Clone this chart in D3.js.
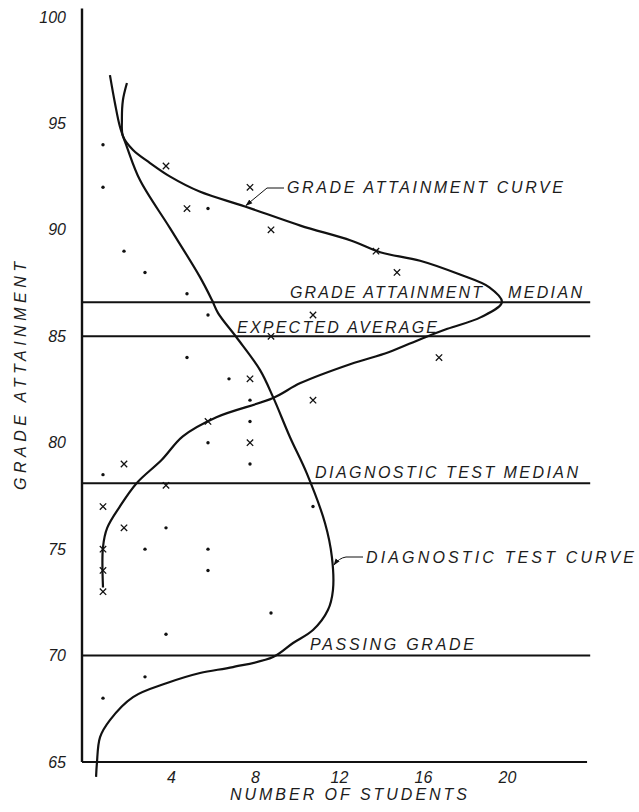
<!DOCTYPE html>
<html>
<head>
<meta charset="utf-8">
<script src="https://cdn.jsdelivr.net/npm/d3@7"></script>
<style>
  body { margin: 0; background: #fff; }
  text { font-family: "Liberation Sans", Arial, sans-serif; font-style: italic; fill: #1c1c1c; }
</style>
</head>
<body>
<svg id="chart" width="639" height="812"></svg>
<script>
// ticks
const gradeTicks = [65, 70, 75, 80, 85, 90, 95, 100];
const studentTicks = [4, 8, 12, 16, 20];

// [students, grade] along each smoothed curve
const attainCurve = [
  [2.14, 96.9], [1.95, 96.1], [1.9, 95.15], [1.95, 94.4], [2.43, 93.75], [3.24, 93.14],
  [4.2, 92.5], [5.6, 91.8], [7.76, 91.1], [10.4, 90.2], [12.8, 89.5], [14.2, 88.95],
  [16.1, 88.55], [18.0, 87.9], [19.4, 87.3], [20.0, 86.6], [19.0, 85.9], [17.4, 85.35],
  [16.2, 84.9], [14.6, 84.25], [12.8, 83.7], [10.4, 82.8], [9.1, 82.1], [6.4, 81.2],
  [4.8, 80.3], [3.8, 79.2], [2.6, 78.1], [1.8, 77.0], [1.2, 76.0], [1.0, 75.1], [1.0, 73.2]
];
const diagCurve = [
  [1.33, 97.27], [1.57, 95.95], [1.81, 94.83], [2.14, 93.89], [2.76, 92.34], [4.19, 90.08],
  [5.62, 87.78], [6.19, 86.7], [6.48, 86.09], [7.38, 84.92], [8.48, 83.41], [9.1, 82.14],
  [9.9, 80.27], [10.7, 78.57], [11.57, 76.23], [11.9, 74.63], [11.95, 73.08], [11.71, 72.14],
  [11.0, 71.2], [10.05, 70.59], [9.1, 69.93], [7.19, 69.46], [5.62, 69.18], [4.05, 68.71],
  [2.43, 68.05], [1.33, 66.97], [0.86, 66.17], [0.71, 64.95], [0.67, 64.3]
];

// plotted observations: x marks and dots
const crossPts = [
  [4, 93], [5, 91], [8, 92], [9, 90], [14, 89], [15, 88], [11, 86], [9, 85], [17, 84],
  [8, 83], [11, 82], [6, 81], [8, 80], [2, 79], [4, 78], [1, 77], [2, 76], [1, 75], [1, 74], [1, 73]
];
const dotPts = [
  [1, 94], [1, 92], [6, 91], [2, 89], [3, 88], [5, 87], [6, 86], [5, 84], [7, 83], [8, 82],
  [8, 81], [6, 80], [8, 79], [1, 78.5], [11, 77], [4, 76], [3, 75], [6, 75], [6, 74], [9, 72],
  [4, 71], [3, 69], [1, 68]
];

// horizontal reference lines
const refValues = [86.6, 85, 78.1, 70];

const svg = d3.select('#chart');
svg.append('rect').attr('width', 639).attr('height', 812).attr('fill', '#fff');

const x = d3.scaleLinear().domain([0, 24]).range([82, 586]);
const y = d3.scaleLinear().domain([65, 100]).range([762, 17]);

svg.append('defs').append('marker')
  .attr('id', 'arrow')
  .attr('viewBox', '0 0 10 10')
  .attr('refX', 9).attr('refY', 5)
  .attr('markerWidth', 7).attr('markerHeight', 7)
  .attr('orient', 'auto-start-reverse')
  .append('path').attr('d', 'M0,1.5 L10,5 L0,8.5 Z').attr('fill', '#111');

// axes
const yAxis = svg.append('g')
  .attr('transform', `translate(${x(0)},0)`)
  .call(d3.axisLeft(y).tickValues(gradeTicks).tickSize(0).tickPadding(16));
yAxis.select('.domain').remove();
yAxis.selectAll('text').attr('font-size', 16).style('font-family', null);

const xAxis = svg.append('g')
  .attr('transform', `translate(0,${y(65)})`)
  .call(d3.axisBottom(x).tickValues(studentTicks).tickSize(0).tickPadding(10));
xAxis.select('.domain').remove();
xAxis.selectAll('text').attr('font-size', 16).attr('dx', 5).style('font-family', null);

svg.append('line')
  .attr('x1', x(0)).attr('x2', x(0))
  .attr('y1', y(65)).attr('y2', y(100.4))
  .attr('stroke', '#111').attr('stroke-width', 2.4);
svg.append('line')
  .attr('x1', x(0)).attr('x2', x(24.05))
  .attr('y1', y(65)).attr('y2', y(65))
  .attr('stroke', '#111').attr('stroke-width', 2.2);

// reference lines
svg.selectAll('.ref').data(refValues).join('line')
  .attr('class', 'ref')
  .attr('x1', x(0)).attr('x2', x(24.2))
  .attr('y1', d => y(d)).attr('y2', d => y(d))
  .attr('stroke', '#111').attr('stroke-width', 2);

// curves
const line = d3.line()
  .x(d => x(d[0])).y(d => y(d[1]))
  .curve(d3.curveCatmullRom.alpha(0.5));

svg.append('path').datum(attainCurve)
  .attr('d', line).attr('fill', 'none')
  .attr('stroke', '#111').attr('stroke-width', 2.2);
svg.append('path').datum(diagCurve)
  .attr('d', line).attr('fill', 'none')
  .attr('stroke', '#111').attr('stroke-width', 2.2);

// points
svg.selectAll('.dot').data(dotPts).join('circle')
  .attr('class', 'dot')
  .attr('cx', d => x(d[0])).attr('cy', d => y(d[1]))
  .attr('r', 1.7).attr('fill', '#111');

const cs = 3.2;
svg.selectAll('.cross').data(crossPts).join('path')
  .attr('class', 'cross')
  .attr('d', d => {
    const cx = x(d[0]), cy = y(d[1]);
    return `M${cx - cs},${cy - cs}L${cx + cs},${cy + cs}M${cx - cs},${cy + cs}L${cx + cs},${cy - cs}`;
  })
  .attr('stroke', '#111').attr('stroke-width', 1.3).attr('fill', 'none');

// labels
function label(txt, x0, base, len, size) {
  svg.append('text')
    .attr('x', x0).attr('y', base)
    .attr('font-size', size || 16)
    .attr('textLength', len).attr('lengthAdjust', 'spacing')
    .text(txt);
}
label('GRADE ATTAINMENT CURVE', 287, 193, 276);
label('GRADE ATTAINMENT', 290, 298, 192);
label('MEDIAN', 508, 298, 74);
label('EXPECTED AVERAGE', 237, 333, 200);
label('DIAGNOSTIC TEST MEDIAN', 315, 478, 263);
label('DIAGNOSTIC TEST CURVE', 366, 563, 268);
label('PASSING GRADE', 310, 650, 164);
label('NUMBER OF STUDENTS', 230, 800, 237);

svg.append('text')
  .attr('transform', 'translate(26,376) rotate(-90)')
  .attr('text-anchor', 'middle')
  .attr('font-size', 16)
  .attr('textLength', 228).attr('lengthAdjust', 'spacing')
  .text('GRADE ATTAINMENT');

// leaders pointing at the curves
const gaTip = [x(7.76), y(91.1)];
svg.append('path')
  .attr('d', `M284,188 L267,188 L${gaTip[0] + 1},${gaTip[1] - 1}`)
  .attr('fill', 'none').attr('stroke', '#111').attr('stroke-width', 1)
  .attr('marker-end', 'url(#arrow)');

const dtTip = [x(11.95), y(74.3)];
svg.append('path')
  .attr('d', `M363,557 L346,557 Q339,558 ${dtTip[0] + 1},${dtTip[1] + 1}`)
  .attr('fill', 'none').attr('stroke', '#111').attr('stroke-width', 1)
  .attr('marker-end', 'url(#arrow)');
</script>
</body>
</html>
